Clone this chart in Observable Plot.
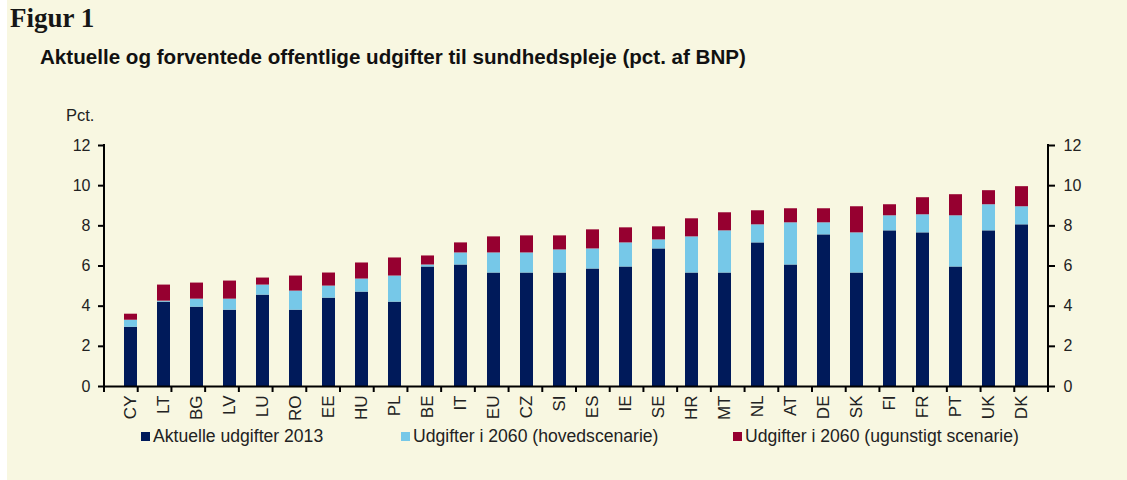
<!DOCTYPE html>
<html>
<head>
<meta charset="utf-8">
<script src="https://cdn.jsdelivr.net/npm/d3@7"></script>
<script src="https://cdn.jsdelivr.net/npm/@observablehq/plot@0.6"></script>
<style>
  html, body { margin: 0; padding: 0; background: #ffffff; }
  #root { position: relative; margin-left: 7px; width: 1120px; height: 480px; background: #f8f7e1; overflow: hidden;
          font-family: "Liberation Sans", Arial, sans-serif; color: #1a1a1a; }
  #title { position: absolute; left: 3px; top: 3px; font-family: "Liberation Serif", "DejaVu Serif", serif; font-size: 27px; font-weight: bold; color: #161616; line-height: 31px; }
  #subtitle { position: absolute; left: 33px; top: 45px; font-size: 20.6px; font-weight: bold; color: #111; white-space: nowrap; }
  #unit { position: absolute; left: 59px; top: 106px; font-size: 16.5px; color: #222; }
  #chart { position: absolute; left: 0; top: 100px; }
  #legend { position: absolute; top: 426px; left: 0; width: 1120px; height: 22px; font-size: 17.6px; color: #222; }
  .item { position: absolute; white-space: nowrap; display: flex; align-items: center; }
  .sw { display: inline-block; width: 9px; height: 9px; margin-right: 3px; }
</style>
</head>
<body>
<div id="root">
  <div id="title">Figur 1</div>
  <div id="subtitle">Aktuelle og forventede offentlige udgifter til sundhedspleje (pct. af BNP)</div>
  <div id="unit">Pct.</div>
  <div id="chart"></div>
  <div id="legend"></div>
</div>
<script>
const countries = ["CY","LT","BG","LV","LU","RO","EE","HU","PL","BE","IT","EU","CZ","SI","ES","IE","SE","HR","MT","NL","AT","DE","SK","FI","FR","PT","UK","DK"];
// Current expenditure 2013 (pct. of GDP)
const current2013 = [2.95,4.2,3.95,3.8,4.55,3.8,4.4,4.7,4.2,5.95,6.05,5.65,5.65,5.65,5.85,5.95,6.85,5.65,5.65,7.15,6.05,7.55,5.65,7.75,7.65,5.95,7.75,8.05];
// Expenditure 2060, main scenario (level)
const main2060 = [3.3,4.25,4.35,4.35,5.05,4.75,5.0,5.35,5.5,6.05,6.65,6.65,6.65,6.8,6.85,7.15,7.3,7.45,7.75,8.05,8.15,8.15,7.65,8.5,8.55,8.5,9.05,8.95];
// Expenditure 2060, adverse scenario (level)
const adverse2060 = [3.6,5.05,5.15,5.25,5.4,5.5,5.65,6.15,6.4,6.5,7.15,7.45,7.5,7.5,7.8,7.9,7.95,8.35,8.65,8.75,8.85,8.85,8.95,9.05,9.4,9.55,9.75,9.95];
const yTicks = [0,2,4,6,8,10,12];
const seriesNames = ["Aktuelle udgifter 2013","Udgifter i 2060 (hovedscenarie)","Udgifter i 2060 (ugunstigt scenarie)"];
const seriesColors = ["#001a5a","#76c8e8","#960030"];

const rows = countries.map((c, i) => ({c, a: current2013[i], b: main2060[i], d: adverse2060[i]}));

const W = 1120, ML = 97, MR = 79, MT = 45, MB = 52, H = MT + 241 + MB;

const chart = Plot.plot({
  width: W, height: H,
  marginLeft: ML, marginRight: MR, marginTop: MT, marginBottom: MB,
  style: {background: "transparent", fontFamily: "'Liberation Sans', Arial, sans-serif", fontSize: "16px", color: "#222"},
  x: {domain: countries, paddingInner: 0.6, paddingOuter: 0.3, label: null},
  y: {domain: [0, 12], label: null},
  marks: [
    Plot.rectY(rows, {x: "c", y1: 0, y2: "a", fill: seriesColors[0]}),
    Plot.rectY(rows, {x: "c", y1: "a", y2: "b", fill: seriesColors[1]}),
    Plot.rectY(rows, {x: "c", y1: "b", y2: "d", fill: seriesColors[2]}),
    Plot.ruleY([0], {stroke: "#000", strokeWidth: 2}),
    Plot.axisY({anchor: "left", ticks: yTicks, tickSize: 6, tickPadding: 8, stroke: "#000", strokeWidth: 2, strokeOpacity: 1, label: null, fill: "#222"}),
    Plot.axisY({anchor: "right", ticks: yTicks, tickSize: 6, tickPadding: 9, stroke: "#000", strokeWidth: 2, strokeOpacity: 1, label: null, fill: "#222"}),
    Plot.axisX({anchor: "bottom", tickSize: 0, tickPadding: 9, tickRotate: -90, label: null, fill: "#222", fontSize: 17})
  ]
});

// Axis lines and category-boundary ticks, derived from the plot's scales
const sx = chart.scale("x"), sy = chart.scale("y");
const band = d3.scaleBand().domain(sx.domain).range(sx.range)
  .paddingInner(sx.paddingInner).paddingOuter(sx.paddingOuter).align(sx.align ?? 0.5);
const yScale = d3.scaleLinear().domain(sy.domain).range(sy.range);
const svg = d3.select(chart);
const g = svg.append("g").attr("stroke", "#000").attr("stroke-width", 2);
const [x0, x1] = band.range();
const y0 = yScale(0), yTop = yScale(12);
g.append("line").attr("x1", x0).attr("x2", x0).attr("y1", y0).attr("y2", yTop - 1);
g.append("line").attr("x1", x1).attr("x2", x1).attr("y1", y0).attr("y2", yTop - 1);
const step = band.step();
const bounds = d3.range(countries.length + 1).map(i => x0 + i * step);
g.selectAll(".bt").data(bounds).join("line")
  .attr("x1", d => d).attr("x2", d => d).attr("y1", y0).attr("y2", y0 + 6);

document.getElementById("chart").appendChild(chart);

// Legend
const legend = document.getElementById("legend");
const legendX = [134, 394, 726];
seriesNames.forEach((name, i) => {
  const it = document.createElement("div");
  it.className = "item";
  it.style.left = legendX[i] + "px";
  it.innerHTML = `<span class="sw" style="background:${seriesColors[i]}"></span><span>${name}</span>`;
  legend.appendChild(it);
});
</script>
</body>
</html>
